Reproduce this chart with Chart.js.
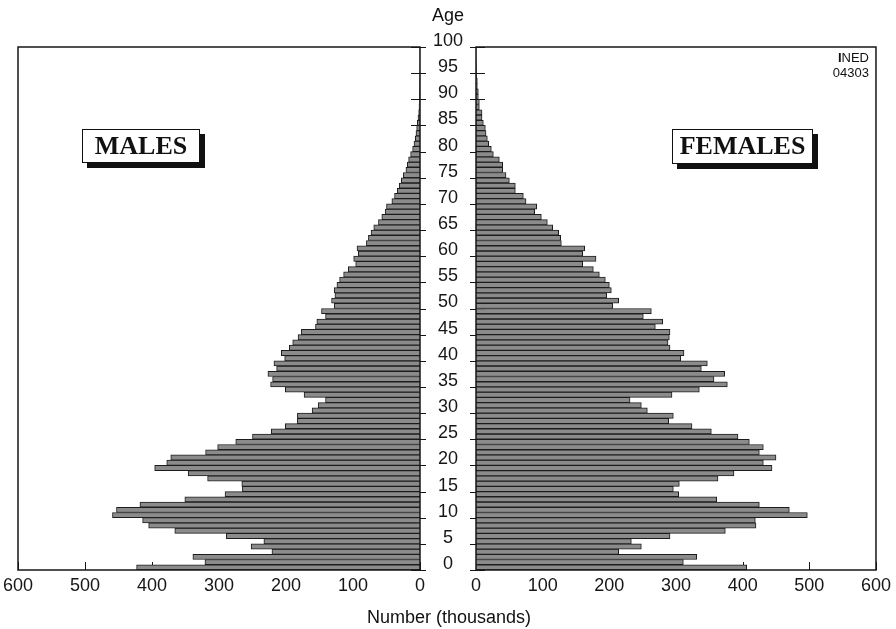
<!DOCTYPE html>
<html>
<head>
<meta charset="utf-8">
<script src="https://cdn.jsdelivr.net/npm/chart.js@4.4.0/dist/chart.umd.min.js"></script>
<style>
  body { margin: 0; background: #fff; }
  #wrap { position: relative; width: 896px; height: 629px; overflow: hidden;
          font-family: "Liberation Sans", Arial, sans-serif; color: #111; }
  canvas { position: absolute; left: 0; top: 0; }
  .txt { position: absolute; white-space: nowrap; transform: translate(-50%, -50%); font-size: 18px; }
  .sex { position: absolute; box-sizing: border-box; border: 1.5px solid #111; background: #fff;
         box-shadow: 5px 5px 0 #111; font-family: "Liberation Serif", "Times New Roman", serif;
         font-weight: bold; font-size: 26px; text-align: center; line-height: 31px; }
  #ined { position: absolute; right: 27px; top: 50px; font-size: 13px; line-height: 15px; text-align: right; }
</style>
</head>
<body>
<div id="wrap">
  <canvas id="males" width="896" height="629"></canvas>
  <canvas id="females" width="896" height="629"></canvas>
  <div class="txt" style="left:448px; top:15px;">Age</div>
  <div class="txt" style="left:449px; top:617px;">Number (thousands)</div>
  <div class="sex" style="left:82px; top:129px; width:118px; height:34px;">MALES</div>
  <div class="sex" style="left:672px; top:129px; width:141px; height:35px;">FEMALES</div>
  <div id="ined"><b>I</b>NED<br>04303</div>
</div>
<script>
// ages 0..99, one bar per single year of age
const ages = Array.from({ length: 100 }, (_, i) => i);

// thousands
const males = [
  423, 321, 339, 221, 252, 233, 289, 366, 405, 414,
  459, 453, 418, 351, 291, 265, 266, 317, 346, 396,
  378, 372, 320, 302, 275, 250, 222, 201, 183, 183,
  161, 152, 141, 173, 201, 223, 220, 227, 214, 218,
  202, 207, 195, 190, 182, 177, 156, 154, 141, 147,
  128, 132, 127, 128, 124, 120, 114, 107, 96, 99,
  92, 94, 80, 77, 73, 69, 62, 57, 52, 50,
  42, 38, 34, 31, 28, 25, 21, 19, 17, 14,
  11, 9, 7, 6, 5, 4, 3, 2, 1.5, 1.2,
  1, 0.8, 0.6, 0.5, 0.4, 0.3, 0.2, 0.15, 0.1, 0.1
];
const females = [
  406, 311, 331, 214, 248, 233, 291, 374, 420, 419,
  497, 470, 425, 361, 304, 296, 305, 363, 387, 444,
  431, 450, 425, 431, 410, 393, 353, 324, 289, 296,
  257, 248, 231, 294, 335, 377, 357, 373, 338, 347,
  307, 312, 291, 288, 290, 291, 269, 280, 251, 263,
  205, 214, 196, 203, 200, 194, 185, 176, 160, 180,
  160, 163, 128, 127, 124, 115, 107, 98, 88, 91,
  75, 71, 59, 59, 50, 45, 40, 40, 35, 26,
  23, 19, 17, 15, 14, 11, 9, 9, 5, 5,
  3.5, 3.5, 2, 2, 1, 0.8, 0.5, 0.3, 0.2, 0.1
];

const ageTicks = [0, 5, 10, 15, 20, 25, 30, 35, 40, 45, 50, 55, 60, 65, 70, 75, 80, 85, 90, 95, 100];
const numberTicks = [0, 100, 200, 300, 400, 500, 600];

const FONT = { family: '"Liberation Sans", Arial, sans-serif', size: 18 };
const INK = '#161616';

// frame round the plot area, ticks that point inward (drawn under the bars)
const frameTicks = {
  id: 'frameTicks',
  beforeDatasetsDraw(chart, args, opts) {
    const { ctx, chartArea: a, scales } = chart;
    const edge = opts.side === 'left' ? a.right : a.left;
    const dir = opts.side === 'left' ? -1 : 1;
    ctx.save();
    ctx.strokeStyle = INK;
    ctx.lineWidth = 1;
    ctx.beginPath();
    scales.age.ticks.forEach(t => {
      const py = Math.round(scales.age.getPixelForValue(t.value)) + 0.5;
      ctx.moveTo(edge - dir * 6, py);
      ctx.lineTo(edge + dir * 9, py);
    });
    scales.x.ticks.forEach(t => {
      const px = Math.round(scales.x.getPixelForValue(t.value)) + 0.5;
      ctx.moveTo(px, a.bottom);
      ctx.lineTo(px, a.bottom - 8);
    });
    ctx.stroke();
    ctx.restore();
  },
  afterDatasetsDraw(chart) {
    const { ctx, chartArea: a } = chart;
    ctx.save();
    ctx.strokeStyle = INK;
    ctx.lineWidth = 1.5;
    ctx.strokeRect(a.left, a.top, a.right - a.left, a.bottom - a.top);
    ctx.restore();
  }
};

function makeChart(id, values, side) {
  const isLeft = side === 'left';
  return new Chart(document.getElementById(id), {
    type: 'bar',
    data: {
      labels: ages,
      datasets: [{
        data: values,
        backgroundColor: '#8b8b8b',
        borderColor: '#1c1c1c',
        borderWidth: 1,
        barPercentage: 1,
        categoryPercentage: 1
      }]
    },
    options: {
      indexAxis: 'y',
      responsive: false,
      animation: false,
      events: [],
      layout: {
        padding: isLeft
          ? { left: 18, right: 448, top: 47, bottom: 19 }
          : { left: 420, right: 20, top: 47, bottom: 19 }
      },
      scales: {
        x: {
          type: 'linear',
          min: 0,
          max: 600,
          reverse: isLeft,
          afterBuildTicks: s => { s.ticks = numberTicks.map(v => ({ value: v })); },
          afterFit: s => { s.height = 40; },
          grid: { display: false, drawTicks: false },
          border: { display: false },
          ticks: { font: FONT, color: INK, padding: 5, autoSkip: false, maxRotation: 0 }
        },
        y: {
          type: 'category',
          reverse: true,
          display: false
        },
        age: {
          type: 'linear',
          axis: 'y',
          offset: false, // the bar chart would otherwise pad this index-side axis
          position: isLeft ? 'right' : 'left',
          min: 0,
          max: 100,
          afterBuildTicks: s => { s.ticks = ageTicks.map(v => ({ value: v })); },
          afterFit: s => { s.width = isLeft ? 28 : 56; },
          grid: { display: false, drawTicks: false, offset: false },
          border: { display: false },
          ticks: {
            display: !isLeft,
            font: FONT,
            color: INK,
            crossAlign: 'center',
            padding: 13,
            labelOffset: -6,
            autoSkip: false
          }
        }
      },
      plugins: {
        legend: { display: false },
        tooltip: { enabled: false },
        frameTicks: { side: side }
      }
    },
    plugins: [frameTicks]
  });
}

makeChart('males', males, 'left');
makeChart('females', females, 'right');
</script>
</body>
</html>
